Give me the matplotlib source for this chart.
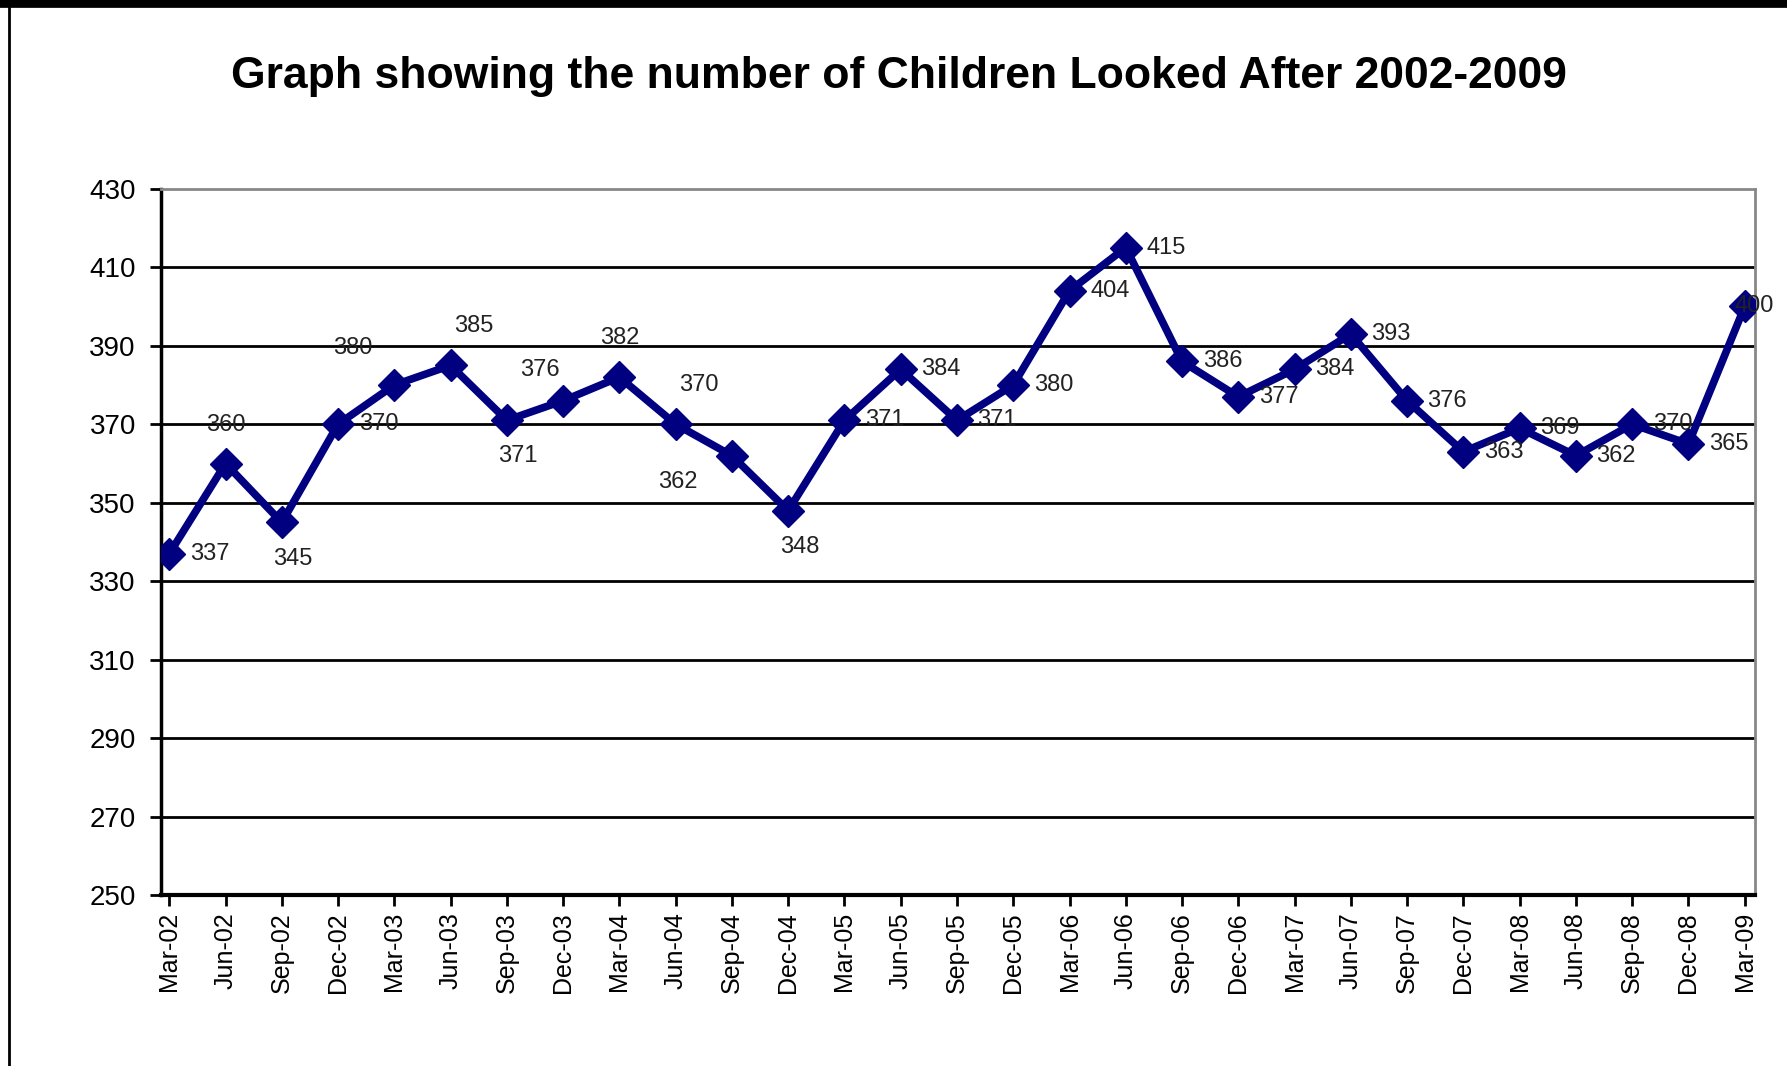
import matplotlib
matplotlib.use('Agg')
import matplotlib.pyplot as plt
from matplotlib.lines import Line2D

# datos del gráfico
quarters = ['Mar-02', 'Jun-02', 'Sep-02', 'Dec-02', 'Mar-03', 'Jun-03', 'Sep-03', 'Dec-03',
            'Mar-04', 'Jun-04', 'Sep-04', 'Dec-04', 'Mar-05', 'Jun-05', 'Sep-05', 'Dec-05',
            'Mar-06', 'Jun-06', 'Sep-06', 'Dec-06', 'Mar-07', 'Jun-07', 'Sep-07', 'Dec-07',
            'Mar-08', 'Jun-08', 'Sep-08', 'Dec-08', 'Mar-09']
children = [337, 360, 345, 370, 380, 385, 371, 376,
            382, 370, 362, 348, 371, 384, 371, 380,
            404, 415, 386, 377, 384, 393, 376, 363,
            369, 362, 370, 365, 400]
y_ticks = [250, 270, 290, 310, 330, 350, 370, 390, 410, 430]

# dónde va cada etiqueta respecto al punto (en puntos tipográficos)
label_place = ['r', 'a', 'b', 'r', 'al', 'ar', 'b', 'al2',
               'a', 'ar', 'bl', 'b', 'r', 'r', 'r', 'r',
               'r', 'r', 'r', 'r', 'r', 'r', 'r', 'r',
               'r', 'r', 'r', 'r', 'end']
offsets = {
    'r': (29, 0),
    'a': (0, 28),
    'b': (8, -26),
    'al': (-30, 27),
    'al2': (-17, 22),
    'ar': (17, 28),
    'bl': (-39, -19),
    'end': (7, 0),
}

plt.rcParams['font.family'] = ['Liberation Sans', 'DejaVu Sans']

fig = plt.figure(figsize=(17.87, 10.66), dpi=100)
ax = fig.add_axes([0.090, 0.160, 0.892, 0.663])

x = list(range(len(quarters)))
ax.plot(x, children, color='#000080', lw=5.5, marker='D', ms=16, zorder=3)

for i, v in enumerate(children):
    ax.annotate(str(v), (i, v), xytext=offsets[label_place[i]], textcoords='offset points',
                ha='center', va='center', fontsize=17, color='#222222', zorder=4)

ax.set_ylim(250, 430)
ax.set_yticks(y_ticks)
ax.set_xlim(-0.15, len(quarters) - 1 + 0.18)
ax.set_xticks(x)
ax.set_xticklabels(quarters, rotation=90, fontsize=18)
ax.tick_params(axis='y', labelsize=20, length=8, width=2, pad=10)
ax.tick_params(axis='x', length=8, width=2, pad=4)

for yv in y_ticks[1:-1]:
    ax.axhline(yv, color='black', lw=2, zorder=1)

ax.spines['left'].set_linewidth(2.5)
ax.spines['bottom'].set_linewidth(3)
ax.spines['top'].set_color('#888888')
ax.spines['top'].set_linewidth(2)
ax.spines['right'].set_color('#888888')
ax.spines['right'].set_linewidth(2)

fig.text(0.503, 0.928, 'Graph showing the number of Children Looked After 2002-2009',
         ha='center', va='center', fontsize=32, fontweight='bold')

# marco de la imagen
fig.add_artist(Line2D([0, 1], [0.997, 0.997], color='black', lw=7, transform=fig.transFigure))
fig.add_artist(Line2D([0.005, 0.005], [0, 1], color='black', lw=2, transform=fig.transFigure))

fig.savefig('out.png', dpi=100)
